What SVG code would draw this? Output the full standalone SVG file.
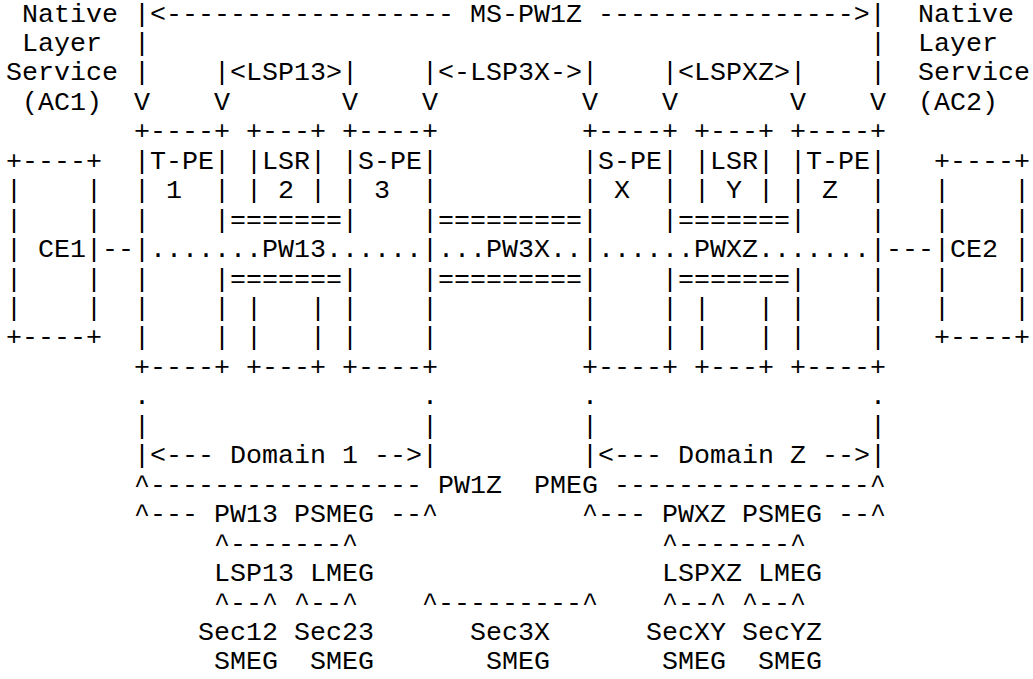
<svg xmlns="http://www.w3.org/2000/svg" width="1033" height="679" viewBox="0 0 1033 679" xml:space="preserve">
<style>
text { font-family: "Liberation Mono", "Courier New", monospace; font-size: 26.667px; fill: #000; white-space: pre; }
</style>
<rect x="0" y="0" width="1033" height="679" fill="#fff"/>
<g id="label-left">
<text x="22" y="21.5">Native</text>
<text x="22" y="50.95">Layer</text>
<text x="6" y="80.4">Service</text>
<text x="22" y="109.85">(AC1)</text>
</g>
<g id="label-right">
<text x="918" y="21.5">Native</text>
<text x="918" y="50.95">Layer</text>
<text x="918" y="80.4">Service</text>
<text x="918" y="109.85">(AC2)</text>
</g>
<g id="node-ce1">
<text x="6" y="168.75">+----+</text>
<text x="6" y="198.2">|    |</text>
<text x="6" y="227.65">|    |</text>
<text x="6" y="257.1">| CE1|</text>
<text x="6" y="286.55">|    |</text>
<text x="6" y="316">|    |</text>
<text x="6" y="345.45">+----+</text>
</g>
<g id="node-tpe1">
<text x="134" y="139.3">+----+</text>
<text x="134" y="168.75">|T-PE|</text>
<text x="134" y="198.2">| 1  |</text>
<text x="134" y="227.65">|    |</text>
<text x="134" y="257.1">|</text>
<text x="134" y="286.55">|    |</text>
<text x="134" y="316">|    |</text>
<text x="134" y="345.45">|    |</text>
<text x="134" y="374.9">+----+</text>
</g>
<g id="node-lsr2">
<text x="246" y="139.3">+---+</text>
<text x="246" y="168.75">|LSR|</text>
<text x="246" y="198.2">| 2 |</text>
<text x="246" y="316">|   |</text>
<text x="246" y="345.45">|   |</text>
<text x="246" y="374.9">+---+</text>
</g>
<g id="node-spe3">
<text x="342" y="139.3">+----+</text>
<text x="342" y="168.75">|S-PE|</text>
<text x="342" y="198.2">| 3  |</text>
<text x="342" y="227.65">|    |</text>
<text x="422" y="257.1">|</text>
<text x="342" y="286.55">|    |</text>
<text x="342" y="316">|    |</text>
<text x="342" y="345.45">|    |</text>
<text x="342" y="374.9">+----+</text>
</g>
<g id="node-spex">
<text x="582" y="139.3">+----+</text>
<text x="582" y="168.75">|S-PE|</text>
<text x="582" y="198.2">| X  |</text>
<text x="582" y="227.65">|    |</text>
<text x="582" y="257.1">|</text>
<text x="582" y="286.55">|    |</text>
<text x="582" y="316">|    |</text>
<text x="582" y="345.45">|    |</text>
<text x="582" y="374.9">+----+</text>
</g>
<g id="node-lsry">
<text x="694" y="139.3">+---+</text>
<text x="694" y="168.75">|LSR|</text>
<text x="694" y="198.2">| Y |</text>
<text x="694" y="316">|   |</text>
<text x="694" y="345.45">|   |</text>
<text x="694" y="374.9">+---+</text>
</g>
<g id="node-tpez">
<text x="790" y="139.3">+----+</text>
<text x="790" y="168.75">|T-PE|</text>
<text x="790" y="198.2">| Z  |</text>
<text x="790" y="227.65">|    |</text>
<text x="870" y="257.1">|</text>
<text x="790" y="286.55">|    |</text>
<text x="790" y="316">|    |</text>
<text x="790" y="345.45">|    |</text>
<text x="790" y="374.9">+----+</text>
</g>
<g id="node-ce2">
<text x="934" y="168.75">+----+</text>
<text x="934" y="198.2">|    |</text>
<text x="934" y="227.65">|    |</text>
<text x="934" y="257.1">|CE2 |</text>
<text x="934" y="286.55">|    |</text>
<text x="934" y="316">|    |</text>
<text x="934" y="345.45">+----+</text>
</g>
<g id="connectors">
<text x="134" y="21.5">|&lt;------------------ MS-PW1Z ----------------&gt;|</text>
<text x="134" y="50.95">|</text>
<text x="870" y="50.95">|</text>
<text x="134" y="80.4">|</text>
<text x="214" y="80.4">|&lt;LSP13&gt;|</text>
<text x="422" y="80.4">|&lt;-LSP3X-&gt;|</text>
<text x="662" y="80.4">|&lt;LSPXZ&gt;|</text>
<text x="870" y="80.4">|</text>
<text x="134" y="109.85">V</text>
<text x="214" y="109.85">V</text>
<text x="342" y="109.85">V</text>
<text x="422" y="109.85">V</text>
<text x="582" y="109.85">V</text>
<text x="662" y="109.85">V</text>
<text x="790" y="109.85">V</text>
<text x="870" y="109.85">V</text>
<text x="230" y="227.65">=======</text>
<text x="438" y="227.65">=========</text>
<text x="678" y="227.65">=======</text>
<text x="102" y="257.1">--</text>
<text x="150" y="257.1">.......PW13......</text>
<text x="438" y="257.1">...PW3X..</text>
<text x="598" y="257.1">......PWXZ.......</text>
<text x="886" y="257.1">---</text>
<text x="230" y="286.55">=======</text>
<text x="438" y="286.55">=========</text>
<text x="678" y="286.55">=======</text>
</g>
<g id="domains">
<text x="134" y="404.35">.</text>
<text x="422" y="404.35">.</text>
<text x="582" y="404.35">.</text>
<text x="870" y="404.35">.</text>
<text x="134" y="433.8">|</text>
<text x="422" y="433.8">|</text>
<text x="582" y="433.8">|</text>
<text x="870" y="433.8">|</text>
<text x="134" y="463.25">|&lt;--- Domain 1 --&gt;|</text>
<text x="582" y="463.25">|&lt;--- Domain Z --&gt;|</text>
</g>
<g id="megs">
<text x="134" y="492.7">^----------------- PW1Z  PMEG ----------------^</text>
<text x="134" y="522.15">^--- PW13 PSMEG --^</text>
<text x="582" y="522.15">^--- PWXZ PSMEG --^</text>
<text x="214" y="551.6">^-------^</text>
<text x="662" y="551.6">^-------^</text>
<text x="214" y="581.05">LSP13 LMEG</text>
<text x="662" y="581.05">LSPXZ LMEG</text>
<text x="214" y="610.5">^--^ ^--^</text>
<text x="422" y="610.5">^---------^</text>
<text x="662" y="610.5">^--^ ^--^</text>
<text x="198" y="639.95">Sec12 Sec23</text>
<text x="470" y="639.95">Sec3X</text>
<text x="646" y="639.95">SecXY SecYZ</text>
<text x="214" y="669.4">SMEG  SMEG</text>
<text x="486" y="669.4">SMEG</text>
<text x="662" y="669.4">SMEG  SMEG</text>
</g>
</svg>
